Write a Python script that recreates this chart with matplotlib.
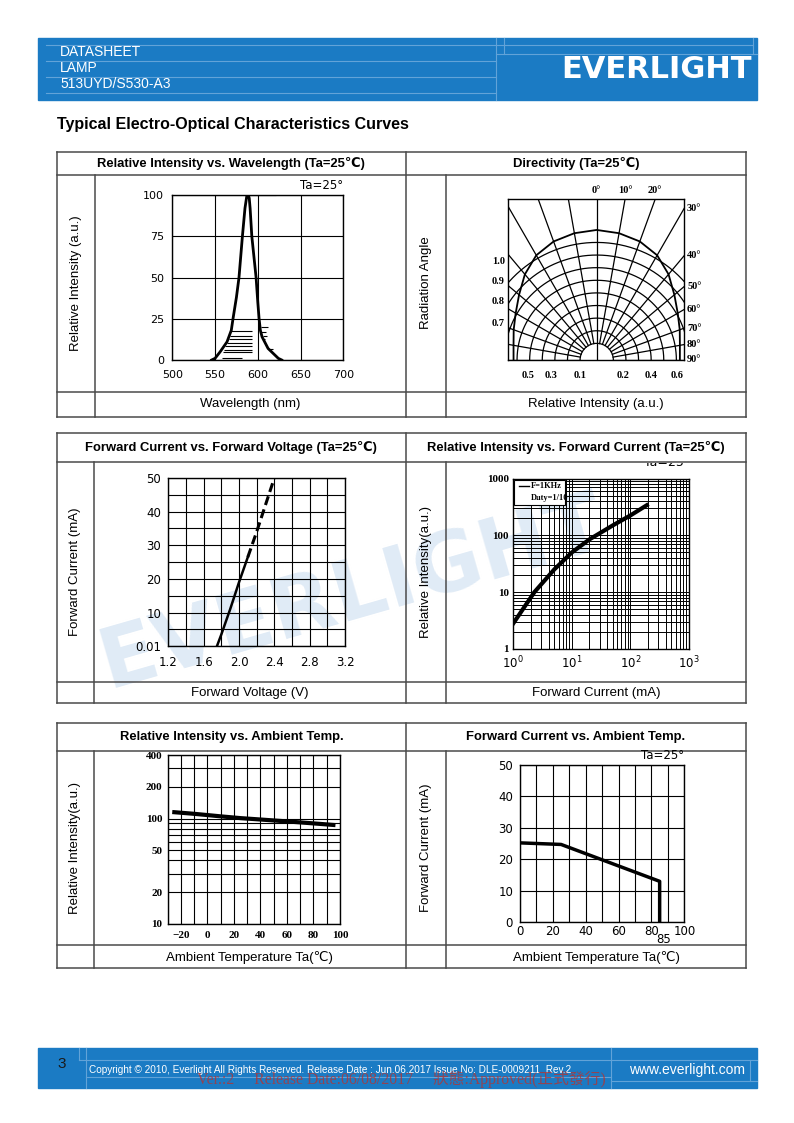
import numpy as np
import matplotlib.pyplot as plt
from matplotlib.patches import Rectangle

W, H = 794, 1123
BLUE = '#1b7bc4'
PALE = '#62a3d8'
LINE = '#4a4a4a'
SANS = ['Liberation Sans', 'DejaVu Sans', 'Noto Sans CJK TC']
PLOT = ['DejaVu Sans']
BOLD = ['Liberation Serif', 'DejaVu Serif']

# ---------------- values ----------------
# relative intensity vs. wavelength
wl_nm = [546, 550, 556, 560, 564, 569, 571, 575, 578, 582, 585, 587, 588, 589, 590,
         591, 593, 596, 598, 600, 601.5, 603, 605, 608, 612, 616, 620, 624, 628]
wl_rel = [0, 1, 5, 8, 11, 18, 25, 38, 50, 75, 92, 99, 100, 100, 98,
          92, 75, 60, 50, 35, 25, 18, 14, 11, 7, 5, 3, 1, 0]
# short horizontal strokes left by the scan of this curve
scan_y = [100, 17.6, 14.5, 13, 10.5, 8.5, 6, 4.6, 1.4, 20, 17, 14.5, 12.7, 6.7]
scan_x0 = [589, 569, 567, 566, 564, 562, 560, 559, 558, 604, 604, 606, 606, 612]
scan_x1 = [621, 593, 593, 593, 593, 593, 593, 593, 581, 612, 610, 611, 609, 618]

# directivity (angle from axis, relative intensity)
dir_deg = [0, 10, 20, 30, 40, 50, 60, 70, 80, 90]
dir_rel = [1.0, 0.99, 0.97, 0.93, 0.86, 0.78, 0.72, 0.68, 0.65, 0.64]
ring_r = [0.128, 0.225, 0.322, 0.419, 0.516, 0.613, 0.71, 0.807, 0.904]

# forward current vs. forward voltage
vf_solid = [1.75, 1.80, 1.90, 2.00, 2.10]
if_solid = [0, 3.5, 11, 19, 26.5]
vf_dash = [2.10, 2.20, 2.30, 2.40]
if_dash = [26.5, 34, 42, 50]

# relative intensity vs. forward current
if_ma = [1, 2.3, 5, 10, 20, 50, 100, 190]
iv_rel = [2.8, 10, 25, 50, 85, 150, 225, 340]

# relative intensity vs. ambient temperature
ta_c = [-25, -10, 0, 10, 25, 40, 55, 70, 85, 95]
iv_ta = [115, 111, 108, 105, 101, 98, 95, 92, 89, 87]

# forward current derating
der_t = [0, 25, 85, 85]
der_i = [25.2, 24.7, 13, 0]

fig = plt.figure(figsize=(W / 100, H / 100), dpi=100)
bg = fig.add_axes([0, 0, 1, 1])
bg.set_xlim(0, W)
bg.set_ylim(H, 0)
bg.axis('off')
bg.set_zorder(0)


def px_axes(x0, y0, x1, y1):
    ax = fig.add_axes([x0 / W, 1 - y1 / H, (x1 - x0) / W, (y1 - y0) / H])
    ax.set_facecolor('none')
    ax.set_zorder(2)
    for s in ax.spines.values():
        s.set_linewidth(1.0)
    ax.tick_params(length=0, labelsize=8)
    return ax


def hl(y, x0, x1, **kw):
    bg.plot([x0, x1], [y, y], **kw)


def vl(x, y0, y1, **kw):
    bg.plot([x, x], [y0, y1], **kw)


# ---------------- page header ----------------
bg.add_patch(Rectangle((38, 38), 719, 62, color=BLUE, zorder=1))
for y in (44.5, 60.5, 76.5, 92.5):
    hl(y, 46, 496, color=PALE, lw=0.8, zorder=2)
hl(44.5, 496, 753, color=PALE, lw=0.8, zorder=2)
hl(54, 496, 757, color=PALE, lw=0.8, zorder=2)
vl(496, 38, 100, color=PALE, lw=0.8, zorder=2)
vl(504, 38, 54, color=PALE, lw=0.8, zorder=2)
vl(753, 38, 54, color=PALE, lw=0.8, zorder=2)
for y, s in ((52.5, 'DATASHEET'), (68.5, 'LAMP'), (84.5, '513UYD/S530-A3')):
    bg.text(60, y, s, color='white', fontsize=10, family=SANS, va='center', zorder=3)
bg.text(657, 70, 'EVERLIGHT', color='white', fontsize=22, weight='bold',
        family=['DejaVu Sans'], ha='center', va='center', zorder=3)

bg.text(57, 124, 'Typical Electro-Optical Characteristics Curves', fontsize=11.5,
        weight='bold', family=SANS, va='center')

# watermark
bg.text(352, 594, 'EVERLIGHT', fontsize=60, weight='bold', family=['DejaVu Sans'],
        color='#e0ebf6', rotation=16, ha='center', va='center', zorder=0.5)


# ---------------- tables ----------------
def table(top, hb, ft, bot, col, heads, ylabels, xlabels):
    L, R, M, col2 = 56.7, 746, 406, 446
    for y in (top, hb, ft, bot):
        hl(y, L, R, color=LINE, lw=1.1, zorder=2)
    for x in (L, M, R):
        vl(x, top, bot, color=LINE, lw=1.1, zorder=2)
    for x in (col, col2):
        vl(x, hb, bot, color=LINE, lw=1.1, zorder=2)
    for cx, s in zip(((L + M) / 2, (M + R) / 2), heads):
        bg.text(cx, (top + hb) / 2 + 0.5, s, fontsize=9.4, weight='bold', family=SANS,
                ha='center', va='center')
    for cx, s in zip(((L + col) / 2, (M + col2) / 2), ylabels):
        bg.text(cx, (hb + ft) / 2, s, fontsize=9.5, family=SANS, rotation=90,
                ha='center', va='center')
    for cx, s in zip(((col + M) / 2, (col2 + R) / 2), xlabels):
        bg.text(cx, (ft + bot) / 2 + 0.5, s, fontsize=9.5, family=SANS,
                ha='center', va='center')


table(151.7, 174.5, 391.5, 416.5, 95,
      ['Relative Intensity vs. Wavelength (Ta=25\u2103)', 'Directivity (Ta=25\u2103)'],
      ['Relative Intensity (a.u.)', 'Radiation Angle'],
      ['Wavelength (nm)', 'Relative Intensity (a.u.)'])
table(433, 462, 681.5, 703, 93.5,
      ['Forward Current vs. Forward Voltage (Ta=25\u2103)',
       'Relative Intensity vs. Forward Current (Ta=25\u2103)'],
      ['Forward Current (mA)', 'Relative Intensity(a.u.)'],
      ['Forward Voltage (V)', 'Forward Current (mA)'])
table(722.5, 750.5, 945, 968, 93.5,
      ['Relative Intensity vs. Ambient Temp.', 'Forward Current vs. Ambient Temp.'],
      ['Relative Intensity(a.u.)', 'Forward Current (mA)'],
      ['Ambient Temperature Ta(\u2103)', 'Ambient Temperature Ta(\u2103)'])

# ---------------- 1: spectrum ----------------
ax1 = px_axes(172.3, 195, 343.3, 360)
ax1.plot(wl_nm, wl_rel, color='k', lw=2)
ax1.hlines(scan_y, scan_x0, scan_x1, color='k', lw=0.8)
ax1.set_xlim(500, 700)
ax1.set_ylim(0, 100)
ax1.set_xticks(range(500, 701, 50))
ax1.set_yticks(range(0, 101, 25))
ax1.grid(True, color='k', lw=0.8)
ax1.tick_params(axis='x', pad=7)
ax1.tick_params(axis='y', pad=6)
ax1.text(1.0, 1.02, 'Ta=25\u00b0', transform=ax1.transAxes, ha='right', va='bottom',
         fontsize=8.5)

# ---------------- 2: directivity ----------------
ax2 = px_axes(507.7, 199, 684.3, 360)
x_lo, x_hi, y_hi = -0.685, 0.674, 1.238
ax2.set_xlim(x_lo, x_hi)
ax2.set_ylim(0, y_hi)
ax2.set_xticks([])
ax2.set_yticks([])
t = np.linspace(0, np.pi, 200)
for r in ring_r:
    ax2.plot(r * np.cos(t), r * np.sin(t), color='k', lw=0.9)
for a in range(-90, 91, 10):
    th = np.radians(a)
    r0 = 0 if a == 0 else ring_r[0]
    ax2.plot([r0 * np.sin(th), 2 * np.sin(th)], [r0 * np.cos(th), 2 * np.cos(th)],
             color='k', lw=0.9)
ang = np.radians([-d for d in dir_deg[::-1]] + dir_deg[1:])
rel = np.array(dir_rel[::-1] + dir_rel[1:])
ax2.plot(rel * np.sin(ang), rel * np.cos(ang), color='k', lw=1.3)
lab_kw = dict(fontsize=7.5, family=BOLD, weight='bold', textcoords='offset points')
for d in dir_deg:
    th = np.radians(d)
    if d == 0 or y_hi * np.tan(th) < x_hi:
        ax2.annotate(f'{d}\u00b0', (y_hi * np.tan(th), y_hi), xytext=(0, 3),
                     ha='center', va='bottom', **lab_kw)
    else:
        ax2.annotate(f'{d}\u00b0', (x_hi, x_hi / np.tan(th)), xytext=(2, 0),
                     ha='left', va='center', **lab_kw)
for s, y in zip(['1.0', '0.9', '0.8', '0.7'], [0.754, 0.607, 0.453, 0.284]):
    ax2.annotate(s, (x_lo, y), xytext=(-2, 0), ha='right', va='center', **lab_kw)
for s, x in zip(['0.5', '0.3', '0.1', '0.2', '0.4', '0.6'],
                [-0.531, -0.352, -0.128, 0.203, 0.418, 0.622]):
    ax2.annotate(s, (x, 0), xytext=(0, -11), ha='center', va='center', **lab_kw)

# ---------------- 3: IF vs VF ----------------
ax3 = px_axes(168.3, 478, 345, 646.3)
ax3.plot(vf_solid, if_solid, color='k', lw=1.8)
ax3.plot(vf_dash, if_dash, color='k', lw=2.2, dashes=(3, 1.5))
ax3.set_xlim(1.2, 3.2)
ax3.set_ylim(0, 50)
ax3.set_xticks(np.arange(1.2, 3.21, 0.2), minor=True)
ax3.set_yticks(np.arange(0, 51, 5), minor=True)
ax3.set_xticks(np.arange(1.2, 3.21, 0.4))
ax3.set_xticklabels(['1.2', '1.6', '2.0', '2.4', '2.8', '3.2'])
ax3.set_yticks(range(0, 51, 10))
ax3.set_yticklabels(['0.01', '10', '20', '30', '40', '50'])
ax3.grid(True, which='both', color='k', lw=0.8)
ax3.tick_params(which='both', length=0)
ax3.tick_params(axis='x', pad=7, labelsize=8.5)
ax3.tick_params(axis='y', pad=5, labelsize=8.5)

# ---------------- 4: IV vs IF ----------------
ax4 = px_axes(513.3, 478.7, 689, 648.7)
ax4.plot(if_ma, iv_rel, color='k', lw=3)
ax4.set_xscale('log')
ax4.set_yscale('log')
ax4.set_xlim(1, 1000)
ax4.set_ylim(1, 1000)
ax4.set_xticks([1, 10, 100, 1000])
ax4.set_xticklabels(['$10^0$', '$10^1$', '$10^2$', '$10^3$'])
ax4.set_yticks([1, 10, 100, 1000])
ax4.set_yticklabels(['1', '10', '100', '1000'], family=BOLD, weight='bold', fontsize=8)
ax4.grid(True, which='both', color='k', lw=0.7)
ax4.tick_params(which='both', length=0)
ax4.tick_params(axis='x', pad=4, labelsize=8.5)
ax4.tick_params(axis='y', pad=3)
ax4.add_patch(Rectangle((0.004, 0.847), 0.29, 0.143, transform=ax4.transAxes,
                        facecolor='white', edgecolor='k', lw=0.8, zorder=3))
ax4.plot([0.03, 0.09], [0.955, 0.955], transform=ax4.transAxes, color='k', lw=1, zorder=4)
ax4.text(0.1, 0.955, 'F=1KHz', transform=ax4.transAxes, fontsize=6, family=BOLD,
         weight='bold', va='center', zorder=4)
ax4.text(0.1, 0.885, 'Duty=1/10', transform=ax4.transAxes, fontsize=6, family=BOLD,
         weight='bold', va='center', zorder=4)
# the scan cut this note in half at the table rule
clip = Rectangle((600, 463), 120, 20, transform=bg.transData)
tt = bg.text(690, 462, 'Ta=25\u00b0', fontsize=9, ha='right', va='center', zorder=3,
             clip_on=True)
tt.set_clip_path(clip)

# ---------------- 5: IV vs Ta ----------------
ax5 = px_axes(167.7, 755.3, 340, 923.7)
ax5.plot(ta_c, iv_ta, color='k', lw=3)
ax5.set_yscale('log')
ax5.set_xlim(-30, 100)
ax5.set_ylim(10, 400)
ax5.set_xticks(range(-30, 101, 10), minor=True)
ax5.set_xticks(range(-20, 101, 20))
ax5.set_yticks([10, 20, 30, 40, 50, 60, 70, 80, 90, 100, 200, 300, 400], minor=True)
ax5.set_yticks([10, 20, 50, 100, 200, 400])
ax5.set_yticklabels(['10', '20', '50', '100', '200', '400'])
ax5.set_xticklabels(['\u221220', '0', '20', '40', '60', '80', '100'])
ax5.grid(True, which='both', color='k', lw=0.8)
ax5.tick_params(which='both', length=0, labelsize=8)
for lab in ax5.get_xticklabels() + ax5.get_yticklabels():
    lab.set_family(BOLD)
    lab.set_weight('bold')
ax5.tick_params(axis='x', pad=5)
ax5.tick_params(axis='y', pad=4)

# ---------------- 6: IF vs Ta ----------------
ax6 = px_axes(520, 764.7, 684.3, 922.3)
ax6.plot(der_t, der_i, color='k', lw=2.5)
ax6.set_xlim(0, 100)
ax6.set_ylim(0, 50)
ax6.set_xticks(range(0, 101, 10), minor=True)
ax6.set_xticks(range(0, 101, 20))
ax6.set_yticks(range(0, 51, 10))
ax6.grid(True, which='both', color='k', lw=0.8)
ax6.tick_params(which='both', length=0)
ax6.tick_params(axis='x', pad=2, labelsize=8.5)
ax6.tick_params(axis='y', pad=5, labelsize=8.5)
ax6.annotate('85', (85, 0), xytext=(3, -8), textcoords='offset points',
             ha='center', va='top', fontsize=8.5)
ax6.text(1.0, 1.02, 'Ta=25\u00b0', transform=ax6.transAxes, ha='right', va='bottom',
         fontsize=8.5)

# ---------------- page footer ----------------
bg.add_patch(Rectangle((38, 1048), 719, 40, color=BLUE, zorder=1))
hl(1060, 79, 611, color=PALE, lw=0.8, zorder=2)
hl(1077, 86, 611, color=PALE, lw=0.8, zorder=2)
hl(1060, 611, 757, color=PALE, lw=0.8, zorder=2)
hl(1081, 611, 757, color=PALE, lw=0.8, zorder=2)
vl(79, 1048, 1060, color=PALE, lw=0.8, zorder=2)
vl(86, 1048, 1088, color=PALE, lw=0.8, zorder=2)
vl(611, 1048, 1088, color=PALE, lw=0.8, zorder=2)
vl(750, 1060, 1081, color=PALE, lw=0.8, zorder=2)
bg.text(62, 1064, '3', fontsize=11, family=SANS, color='#1a1a1a', ha='center',
        va='center', zorder=3)
bg.text(89, 1070, 'Copyright \u00a9 2010, Everlight All Rights Reserved. Release Date : '
        'Jun.06.2017 Issue No: DLE-0009211  Rev.2', fontsize=7.2, family=SANS,
        color='white', va='center', zorder=3)
bg.text(687, 1070, 'www.everlight.com', fontsize=10, family=SANS, color='white',
        ha='center', va='center', zorder=3)
bg.text(197, 1079, 'Ver.:2     Release Date:06/08/2017     \u72c0\u614b:Approved(\u6b63\u5f0f\u767c\u884c)',
        fontsize=11.3, family=['Liberation Serif', 'Noto Sans CJK TC'], color='#b8322e',
        alpha=0.75, va='center', zorder=4)

fig.savefig('out.png', dpi=100)
